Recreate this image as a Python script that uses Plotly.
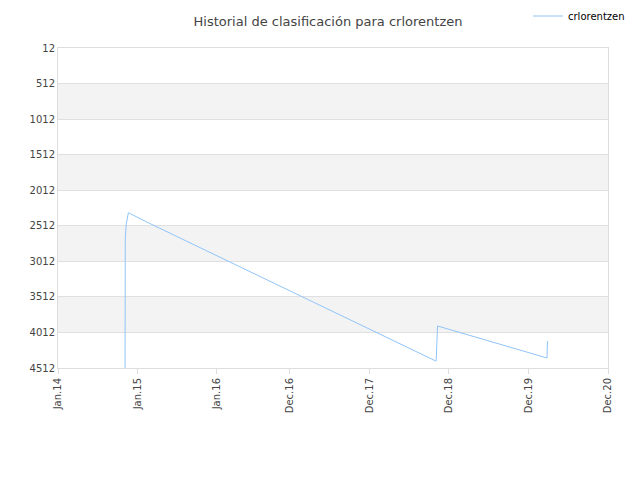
import plotly.graph_objects as go

dates = ["2014-11-05", "2014-11-06", "2014-11-10", "2014-11-20", "2014-12-01", "2015-02-20",
         "2018-10-01", "2018-10-04", "2018-10-10", "2020-02-25", "2020-02-27"]
ranks = [4512, 2700, 2500, 2330, 2345, 2470, 4412, 4412, 3921, 4371, 4132]

tick_vals = ["2014-01-01", "2015-01-01", "2016-01-01", "2016-12-01", "2017-12-01",
             "2018-12-01", "2019-12-01", "2020-12-01"]
tick_text = ["Jan.14", "Jan.15", "Jan.16", "Dec.16", "Dec.17", "Dec.18", "Dec.19", "Dec.20"]
y_ticks = list(range(12, 4513, 500))

fig = go.Figure()
fig.add_trace(go.Scatter(x=dates, y=ranks, mode="lines", name="crlorentzen",
                         line=dict(color="#90c4f9", width=1)))

# alternating grey bands
for lo in [512, 1512, 2512, 3512]:
    fig.add_hrect(y0=lo, y1=lo + 500, fillcolor="#f3f3f3", line_width=0, layer="below")

fig.update_layout(
    width=640, height=480,
    title=dict(text="Historial de clasificación para crlorentzen", x=0.5, xanchor="center",
               y=0.973, yanchor="middle",
               font=dict(size=13, color="#444", family="DejaVu Sans")),
    font=dict(family="DejaVu Sans", size=10, color="#444"),
    plot_bgcolor="white", paper_bgcolor="white",
    margin=dict(l=50, r=40, t=40, b=120, autoexpand=False),
    showlegend=True,
    legend=dict(x=1.04, y=1.1, xanchor="right", yanchor="middle", font=dict(size=10, color="#000")),
    xaxis=dict(range=["2014-01-01", "2020-12-01"], tickvals=tick_vals, ticktext=tick_text,
               tickangle=-90, showgrid=False, linecolor="#ddd", mirror=True, ticks="outside",
               tickcolor="#ddd", automargin=False),
    yaxis=dict(range=[4512, 12], tickvals=y_ticks, gridcolor="#e0e0e0", linecolor="#ddd",
               mirror=True, zeroline=False, automargin=False),
)

fig.write_html("out.html")
